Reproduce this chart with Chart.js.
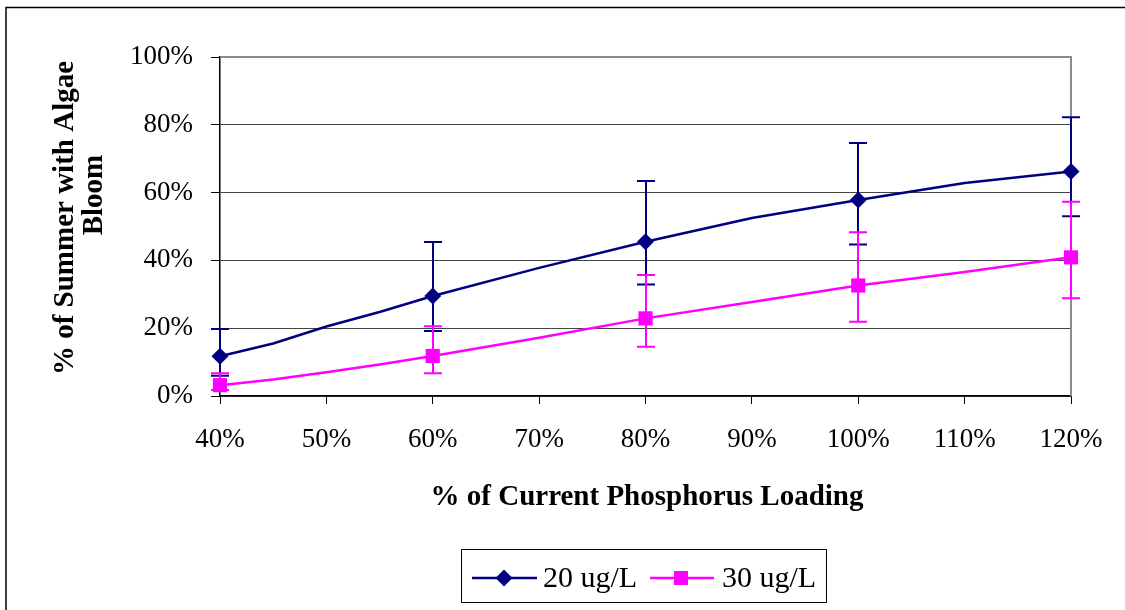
<!DOCTYPE html>
<html><head><meta charset="utf-8">
<script src="https://cdn.jsdelivr.net/npm/chart.js@4/dist/chart.umd.min.js"></script>
<style>html,body{margin:0;padding:0;background:#fff;} #wrap{width:1125px;height:610px;position:relative;}</style>
</head><body><div id="wrap"><canvas id="c" width="1125" height="610"></canvas></div>
<script>
// ---- data ----
const loadPct   = [40, 45, 50, 55, 60, 70, 80, 90, 100, 110, 120];
const bloom20   = [11.7, 15.5, 20.5, 24.8, 29.5, 37.8, 45.5, 52.5, 57.8, 62.8, 66.2];
const bloom30   = [3.2, 4.9, 7.0, 9.3, 11.8, 17.2, 22.9, 27.7, 32.6, 36.6, 40.9];
const markerLoads = [40, 60, 80, 100, 120];
const err20Low  = [6.0, 19.2, 32.9, 44.7, 53.0];
const err20High = [19.8, 45.4, 63.4, 74.6, 82.2];
const err30Low  = [1.8, 6.7, 14.5, 21.9, 28.8];
const err30High = [6.7, 20.6, 35.7, 48.3, 57.3];
const seriesNames = ['20 ug/L', '30 ug/L'];
const xTitle = '% of Current Phosphorus Loading';
const yTitleLines = ['% of Summer with Algae', 'Bloom'];

const NAVY = '#000080', MAG = '#FF00FF';
const SERIF = '"Liberation Serif", "Times New Roman", serif';

function toPoints(xs, ys) { return xs.map((x, i) => ({ x: x, y: ys[i] })); }
function radii(size) { return loadPct.map(x => markerLoads.includes(x) ? size : 0); }

function drawDiamond(ctx, x, y, r, color) {
  ctx.save(); ctx.fillStyle = color; ctx.beginPath();
  ctx.moveTo(x - r, y); ctx.lineTo(x, y - r); ctx.lineTo(x + r, y); ctx.lineTo(x, y + r);
  ctx.closePath(); ctx.fill(); ctx.restore();
}
function drawSquare(ctx, x, y, h, color) {
  ctx.save(); ctx.fillStyle = color; ctx.fillRect(x - h, y - h, 2 * h, 2 * h); ctx.restore();
}

const deco = {
  id: 'deco',
  beforeDraw(chart) {
    const ctx = chart.ctx;
    ctx.save();
    ctx.fillStyle = '#fff'; ctx.fillRect(0, 0, chart.width, chart.height);
    ctx.strokeStyle = '#000'; ctx.lineWidth = 1.5;
    ctx.beginPath(); ctx.moveTo(6, 610); ctx.lineTo(6, 7.5); ctx.lineTo(1125, 7.5); ctx.stroke();
    ctx.restore();
  },
  beforeDatasetsDraw(chart) {
    const ctx = chart.ctx, a = chart.chartArea;
    ctx.save();
    ctx.strokeStyle = '#8c8c8c'; ctx.lineWidth = 2;
    ctx.beginPath(); ctx.moveTo(a.left, a.top); ctx.lineTo(a.right, a.top); ctx.lineTo(a.right, a.bottom); ctx.stroke();
    ctx.restore();
  },
  beforeDatasetDraw(chart, args) {
    const ds = chart.data.datasets[args.index];
    const ctx = chart.ctx, xs = chart.scales.x, ys = chart.scales.y;
    ctx.save();
    ctx.strokeStyle = ds.borderColor; ctx.lineWidth = 2;
    markerLoads.forEach((m, i) => {
      const px = Math.round(xs.getPixelForValue(m));
      const lo = ys.getPixelForValue(ds.errLow[i]), hi = ys.getPixelForValue(ds.errHigh[i]);
      ctx.beginPath();
      ctx.moveTo(px, lo); ctx.lineTo(px, hi);
      ctx.moveTo(px - 9, lo); ctx.lineTo(px + 9, lo);
      ctx.moveTo(px - 9, hi); ctx.lineTo(px + 9, hi);
      ctx.stroke();
    });
    ctx.restore();
  },
  afterDraw(chart) {
    const ctx = chart.ctx;
    ctx.save();
    ctx.fillStyle = '#000';
    // x title
    ctx.font = 'bold 29px ' + SERIF;
    ctx.textAlign = 'center'; ctx.textBaseline = 'alphabetic';
    ctx.fillText(xTitle, 647, 505);
    // y title
    const ypos = [[73, 218], [102, 195]];
    yTitleLines.forEach((t, i) => {
      ctx.save(); ctx.translate(ypos[i][0], ypos[i][1]); ctx.rotate(-Math.PI / 2);
      ctx.fillText(t, 0, 0); ctx.restore();
    });
    // legend
    ctx.strokeStyle = '#000'; ctx.lineWidth = 1;
    ctx.strokeRect(461.5, 549.5, 365, 53);
    ctx.lineWidth = 2.5;
    ctx.strokeStyle = NAVY; ctx.beginPath(); ctx.moveTo(472, 578); ctx.lineTo(537, 578); ctx.stroke();
    drawDiamond(ctx, 504, 578, 8.5, NAVY);
    ctx.strokeStyle = MAG; ctx.beginPath(); ctx.moveTo(650, 578); ctx.lineTo(714, 578); ctx.stroke();
    drawSquare(ctx, 681, 578, 7, MAG);
    ctx.font = '30px ' + SERIF; ctx.textAlign = 'left'; ctx.fillStyle = '#000';
    ctx.fillText(seriesNames[0], 543, 587);
    ctx.fillText(seriesNames[1], 722, 587);
    ctx.restore();
  }
};

new Chart(document.getElementById('c'), {
  type: 'line',
  data: {
    datasets: [
      { label: seriesNames[0], data: toPoints(loadPct, bloom20), errLow: err20Low, errHigh: err20High,
        borderColor: NAVY, backgroundColor: NAVY, borderWidth: 2.5, tension: 0,
        pointStyle: 'rectRot', pointRadius: radii(8.5), pointBorderWidth: 0,
        pointBackgroundColor: NAVY, pointBorderColor: NAVY, clip: false, order: 1 },
      { label: seriesNames[1], data: toPoints(loadPct, bloom30), errLow: err30Low, errHigh: err30High,
        borderColor: MAG, backgroundColor: MAG, borderWidth: 2.5, tension: 0,
        pointStyle: 'rect', pointRadius: radii(10), pointBorderWidth: 0,
        pointBackgroundColor: MAG, pointBorderColor: MAG, clip: false, order: 0 }
    ]
  },
  options: {
    responsive: false, animation: false, devicePixelRatio: 1,
    layout: { padding: { left: 0, right: 54, top: 57, bottom: 0 } },
    plugins: { legend: { display: false }, tooltip: { enabled: false } },
    scales: {
      x: {
        type: 'linear', min: 40, max: 120,
        ticks: { stepSize: 10, autoSkip: false, maxRotation: 0, padding: 20, color: '#000',
                 font: { family: SERIF, size: 27 }, callback: v => v + '%' },
        grid: { drawOnChartArea: false, drawTicks: true, tickLength: 8, tickColor: '#000', tickWidth: 1 },
        border: { display: true, color: '#000', width: 1.5 },
        afterFit: s => { s.height = 214; }
      },
      y: {
        min: 0, max: 100,
        ticks: { stepSize: 20, padding: 18, color: '#000',
                 font: { family: SERIF, size: 27 }, callback: v => v + '%' },
        grid: { color: '#444', lineWidth: 1, drawTicks: true, tickLength: 9, tickColor: '#000', tickWidth: 1 },
        border: { display: true, color: '#000', width: 1.5 },
        afterFit: s => { s.width = 220; }
      }
    }
  },
  plugins: [deco]
});
</script>
</body></html>
